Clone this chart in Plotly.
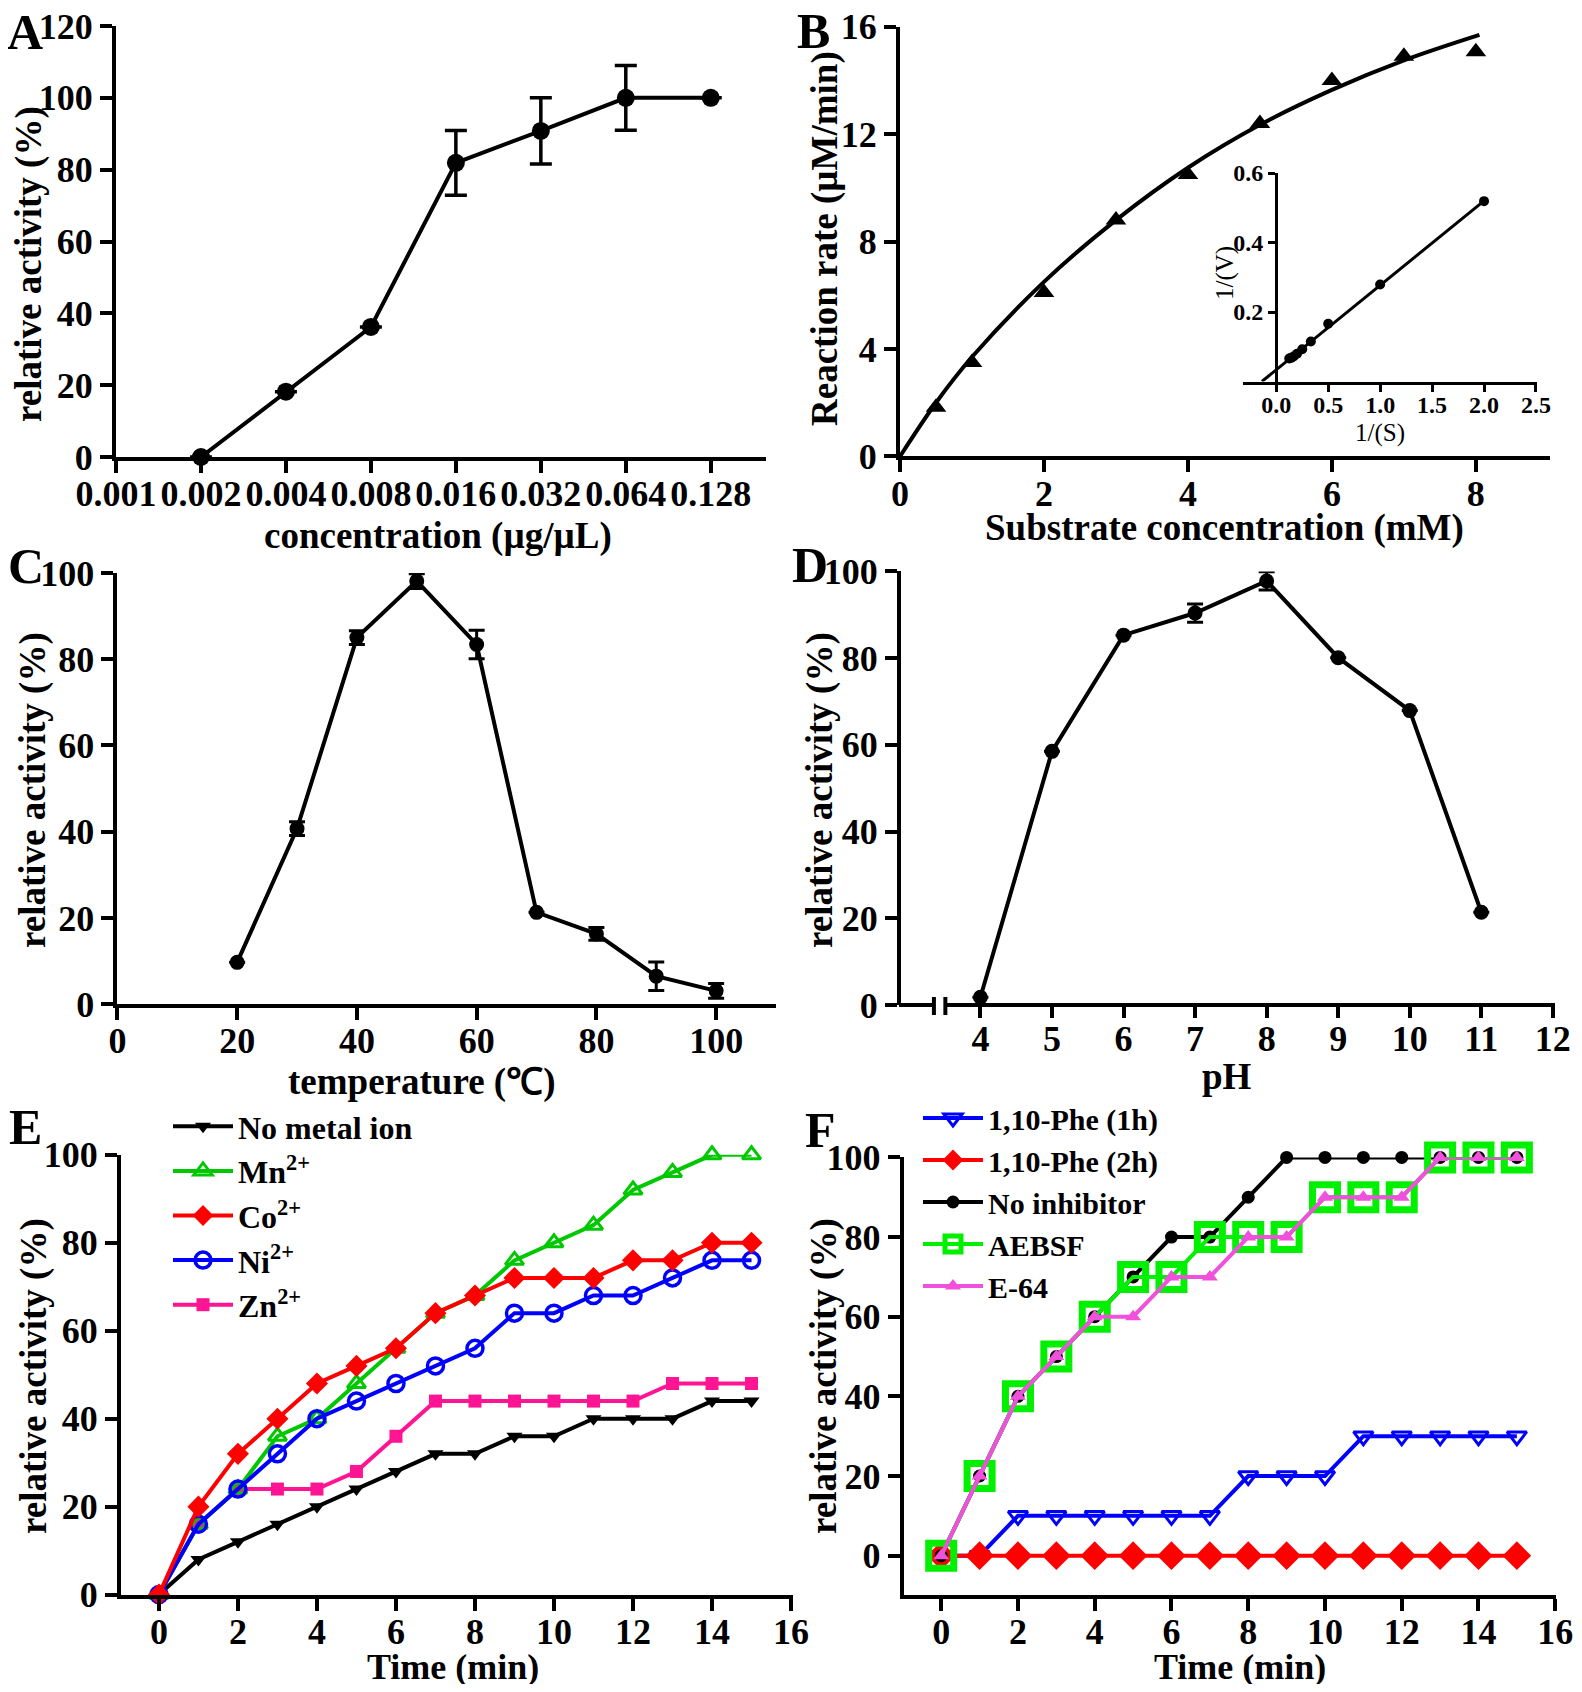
import math
import plotly.graph_objects as go

# The page body has an 8 px margin, so the figure is drawn smaller (so the page
# does not scroll) and every position below is given in page pixels.
PAGE_W, PAGE_H = 1582, 1692
OFF = 8
W, H = PAGE_W - OFF, PAGE_H - 2 * OFF
FONT = "Liberation Serif"

# ---------------- data ----------------
# Panel A
conc = [0.002, 0.004, 0.008, 0.016, 0.032, 0.064, 0.128]
actA = [0, 18.2, 36.2, 81.9, 90.8, 100, 100]
errA = [None, None, None, 9.0, 9.2, 9.0, None]
conc_ticks = [0.001, 0.002, 0.004, 0.008, 0.016, 0.032, 0.064, 0.128]
conc_labels = ["0.001", "0.002", "0.004", "0.008", "0.016", "0.032", "0.064", "0.128"]

# Panel B
substrate = [0.5, 1, 2, 3, 4, 5, 6, 7, 8]
rate = [1.83, 3.5, 6.1, 8.8, 10.5, 12.4, 14.0, 14.9, 15.07]
fit_s = [0, 0.5, 1, 2, 3, 4, 5, 6, 7, 8.05]
fit_v = [0, 2.0, 3.7, 6.5, 8.8, 10.75, 12.35, 13.65, 14.75, 15.7]
inv_s = [0.125, 0.143, 0.167, 0.2, 0.25, 0.333, 0.5, 1.0, 2.0]
inv_v = [0.066, 0.068, 0.072, 0.080, 0.093, 0.115, 0.166, 0.279, 0.519]
lb_x = [-0.138, 2.0]
lb_y = [0.0, 0.52]
inset_xticks = [0.0, 0.5, 1.0, 1.5, 2.0, 2.5]
inset_xlabels = ["0.0", "0.5", "1.0", "1.5", "2.0", "2.5"]
inset_yticks = [0.2, 0.4, 0.6]
inset_ylabels = ["0.2", "0.4", "0.6"]

# Panel C
temp = [20, 30, 40, 50, 60, 70, 80, 90, 100]
actC = [9.7, 40.7, 85.0, 98.1, 83.4, 21.3, 16.3, 6.5, 3.1]
errC = [None, 1.6, 1.6, 1.7, 3.3, None, 1.5, 3.3, 1.7]

# Panel D
ph = [4, 5, 6, 7, 8, 9, 10, 11]
actD = [1.8, 58.5, 85.3, 90.4, 97.8, 80.1, 67.9, 21.4]
errD = [None, None, None, 2.1, 2.1, None, None, None]

# Panel E
timeE = list(range(16))
no_metal = [0, 8, 12, 16, 20, 24, 28, 32, 32, 36, 36, 40, 40, 40, 44, 44]
mn = [0, 16, 24, 36, 40, 48, 56, 64, 68, 76, 80, 84, 92, 96, 100, 100]
co = [0, 20, 32, 40, 48, 52, 56, 64, 68, 72, 72, 72, 76, 76, 80, 80]
ni = [0, 16, 24, 32, 40, 44, 48, 52, 56, 64, 64, 68, 68, 72, 76, 76]
zn = [0, 16, 24, 24, 24, 28, 36, 44, 44, 44, 44, 44, 44, 48, 48, 48]

# Panel F
timeF = list(range(16))
phe1h = [0, 0, 10, 10, 10, 10, 10, 10, 20, 20, 20, 30, 30, 30, 30, 30]
phe2h = [0] * 16
no_inh = [0, 20, 40, 50, 60, 70, 80, 80, 90, 100, 100, 100, 100, 100, 100, 100]
aebsf = [0, 20, 40, 50, 60, 70, 70, 80, 80, 80, 90, 90, 90, 100, 100, 100]
e64 = [0, 20, 40, 50, 60, 60, 70, 70, 80, 80, 90, 90, 90, 100, 100, 100]

# ---------------- helpers ----------------
def px(x):
    return (x - OFF) / W

def py(y):
    return 1 - (y - OFF) / H

def tf(size=36, weight="bold"):
    return dict(family=FONT, size=size, color="black", weight=weight)

def axis(**kw):
    base = dict(showline=True, linecolor="black", linewidth=4, ticks="outside",
                ticklen=12, tickwidth=4, tickcolor="black", showgrid=False,
                zeroline=False, tickfont=tf(36), mirror=False, fixedrange=True,
                automargin=False, ticklabeloverflow="allow")
    base.update(kw)
    return base

fig = go.Figure()
LW = 4

# Panel A
fig.add_trace(go.Scatter(x=conc, y=actA, mode="lines+markers", xaxis="x", yaxis="y",
                         line=dict(color="black", width=LW),
                         marker=dict(symbol="circle", size=18, color="black"),
                         error_y=dict(type="data", array=errA, color="black", thickness=3.5, width=11),
                         cliponaxis=False, showlegend=False))

# Panel B
fig.add_trace(go.Scatter(x=fit_s, y=fit_v, mode="lines", xaxis="x2", yaxis="y2",
                         line=dict(color="black", width=LW, shape="spline"),
                         cliponaxis=False, showlegend=False))
fig.add_trace(go.Scatter(x=substrate, y=rate, mode="markers", xaxis="x2", yaxis="y2",
                         marker=dict(symbol="triangle-up", size=18, color="black"),
                         cliponaxis=False, showlegend=False))
# inset
fig.add_trace(go.Scatter(x=lb_x, y=lb_y, mode="lines", xaxis="x3", yaxis="y3",
                         line=dict(color="black", width=3), cliponaxis=False, showlegend=False))
fig.add_trace(go.Scatter(x=inv_s, y=inv_v, mode="markers", xaxis="x3", yaxis="y3",
                         marker=dict(symbol="circle", size=10, color="black"),
                         cliponaxis=False, showlegend=False))

# Panel C
fig.add_trace(go.Scatter(x=temp, y=actC, mode="lines+markers", xaxis="x4", yaxis="y4",
                         line=dict(color="black", width=LW),
                         marker=dict(symbol="circle", size=15, color="black"),
                         error_y=dict(type="data", array=errC, color="black", thickness=3, width=8),
                         cliponaxis=False, showlegend=False))

# Panel D
fig.add_trace(go.Scatter(x=ph, y=actD, mode="lines+markers", xaxis="x5", yaxis="y5",
                         line=dict(color="black", width=LW),
                         marker=dict(symbol="circle", size=15, color="black"),
                         error_y=dict(type="data", array=errD, color="black", thickness=3, width=8),
                         cliponaxis=False, showlegend=False))

# Panel E (drawing order differs from legend order)
GREEN_E = "#00C800"
PINK_E = "#FF1493"
E_series = [
    ("No metal ion", no_metal, "black", dict(symbol="triangle-down", size=14, color="black"), 1),
    ("Zn<sup>2+</sup>", zn, PINK_E, dict(symbol="square", size=13, color=PINK_E), 5),
    ("Mn<sup>2+</sup>", mn, GREEN_E, dict(symbol="triangle-up-open", size=16, color=GREEN_E,
                                          line=dict(color=GREEN_E, width=3)), 2),
    ("Ni<sup>2+</sup>", ni, "#0000FF", dict(symbol="circle-open", size=16, color="#0000FF",
                                            line=dict(color="#0000FF", width=3.5)), 4),
    ("Co<sup>2+</sup>", co, "#FF0000", dict(symbol="diamond", size=17, color="#FF0000"), 3),
]
for name, vals, col, mk, rank in E_series:
    fig.add_trace(go.Scatter(x=timeE, y=vals, mode="lines+markers", name=name,
                             xaxis="x6", yaxis="y6", line=dict(color=col, width=4),
                             marker=mk, cliponaxis=False, legend="legend", legendrank=rank))

# Panel F
GREEN_F = "#00F000"
ORCHID = "#F050DC"
F_series = [
    ("1,10-Phe (1h)", phe1h, "#0000FF", dict(symbol="triangle-down-open", size=17, color="#0000FF",
                                              line=dict(color="#0000FF", width=3)), 1),
    ("1,10-Phe (2h)", phe2h, "#FF0000", dict(symbol="diamond", size=22, color="#FF0000"), 2),
    ("No inhibitor", no_inh, "black", dict(symbol="circle", size=13, color="black"), 3),
    ("AEBSF", aebsf, GREEN_F, dict(symbol="square-open", size=25, color=GREEN_F,
                                   line=dict(color=GREEN_F, width=7)), 4),
    ("E-64", e64, ORCHID, dict(symbol="triangle-up", size=14, color=ORCHID), 5),
]
for name, vals, col, mk, rank in F_series:
    fig.add_trace(go.Scatter(x=timeF, y=vals, mode="lines+markers", name=name,
                             xaxis="x7", yaxis="y7", line=dict(color=col, width=4),
                             marker=mk, cliponaxis=False, legend="legend2", legendrank=rank))

# ---------------- axes ----------------
A_xr = [math.log10(0.001), math.log10(0.128) + 0.65 * math.log10(2)]
D_xr = [2.89, 12.03]
D_dom = [px(901), px(1555)]
SO = -10  # tick label standoff for the main x axes

layout = dict(
    width=W, height=H, margin=dict(l=0, r=0, t=0, b=0, autoexpand=False),
    paper_bgcolor="white", plot_bgcolor="rgba(0,0,0,0)",
    xaxis=axis(domain=[px(116), px(766)], type="log", range=A_xr, anchor="y",
               tickvals=conc_ticks, ticktext=conc_labels, tickfont=tf(36), ticklabelstandoff=SO),
    yaxis=axis(domain=[py(457), py(26)], range=[0, 120], tickvals=[0, 20, 40, 60, 80, 100, 120],
               anchor="x"),
    xaxis2=axis(domain=[px(900), px(1550)], range=[0, 9.03], tickvals=[0, 2, 4, 6, 8],
                anchor="y2", ticklabelstandoff=SO),
    yaxis2=axis(domain=[py(456.4), py(26.8)], range=[0, 16], tickvals=[0, 4, 8, 12, 16], anchor="x2"),
    xaxis3=axis(domain=[px(1243), px(1537)], range=[-0.32, 2.51], tickvals=inset_xticks,
                ticktext=inset_xlabels, anchor="y3", linewidth=3, tickwidth=3, ticklen=7,
                tickfont=tf(24), ticklabelstandoff=-7),
    yaxis3=axis(domain=[py(381.5), py(173)], range=[0, 0.6], tickvals=inset_yticks,
                ticktext=inset_ylabels, anchor="free", position=px(1276), linewidth=3,
                tickwidth=3, ticklen=7, tickfont=tf(24)),
    xaxis4=axis(domain=[px(117.4), px(776)], range=[0, 110], tickvals=[0, 20, 40, 60, 80, 100],
                anchor="y4", ticklabelstandoff=SO),
    yaxis4=axis(domain=[py(1004.2), py(572.9)], range=[0, 100], tickvals=[0, 20, 40, 60, 80, 100],
                anchor="x4"),
    xaxis5=axis(domain=D_dom, range=D_xr, tickvals=[4, 5, 6, 7, 8, 9, 10, 11, 12],
                anchor="y5", showline=False, ticklabelstandoff=SO),
    yaxis5=axis(domain=[py(1005), py(571.4)], range=[0, 100], tickvals=[0, 20, 40, 60, 80, 100],
                anchor="x5"),
    xaxis6=axis(domain=[px(121), px(793)], range=[-0.96, 16.05], tickvals=list(range(0, 17, 2)),
                anchor="y6", ticklabelstandoff=SO),
    yaxis6=axis(domain=[py(1594.6), py(1154.8)], range=[0, 100], tickvals=[0, 20, 40, 60, 80, 100],
                anchor="x6"),
    xaxis7=axis(domain=[px(903.6), px(1556)], range=[-0.98, 16.02], tickvals=list(range(0, 17, 2)),
                anchor="y7", ticklabelstandoff=SO),
    yaxis7=axis(domain=[py(1594.7), py(1157.4)], range=[-9.8, 100], tickvals=[0, 20, 40, 60, 80, 100],
                anchor="x7"),
    legend=dict(x=px(168), y=py(1099), xanchor="left", yanchor="top", bgcolor="rgba(0,0,0,0)",
                font=tf(32), itemwidth=60, tracegroupgap=0, traceorder="normal"),
    legend2=dict(x=px(918), y=py(1092), xanchor="left", yanchor="top", bgcolor="rgba(0,0,0,0)",
                 font=tf(30), itemwidth=60, tracegroupgap=0, traceorder="normal"),
)
fig.update_layout(**layout)

# Broken x-axis line for panel D
def d_px(xv):
    return D_dom[0] + (xv - D_xr[0]) / (D_xr[1] - D_xr[0]) * (D_dom[1] - D_dom[0])

brk = [3.35, 3.51]
yax = py(1005)
shapes = [
    dict(type="line", xref="paper", yref="paper", x0=d_px(D_xr[0]) - 2 / W, x1=d_px(brk[0]),
         y0=yax, y1=yax, line=dict(color="black", width=4)),
    dict(type="line", xref="paper", yref="paper", x0=d_px(brk[1]), x1=d_px(D_xr[1]),
         y0=yax, y1=yax, line=dict(color="black", width=4)),
]
for b in brk:
    shapes.append(dict(type="line", xref="paper", yref="paper", x0=d_px(b), x1=d_px(b),
                       y0=py(1015), y1=py(997), line=dict(color="black", width=4)))
fig.update_layout(shapes=shapes)

# ---------------- text annotations ----------------
ann = []
def add_text(text, x, y, size, angle=0, weight="bold"):
    ann.append(dict(text=text, x=px(x), y=py(y), xref="paper", yref="paper", showarrow=False,
                    xanchor="center", yanchor="middle", textangle=angle, borderpad=0,
                    font=tf(size, weight)))

# panel letters
for letter, x, y in [("A", 25, 32), ("B", 813, 31), ("C", 26, 566), ("D", 810, 565),
                     ("E", 25, 1127), ("F", 821, 1130)]:
    add_text(letter, x, y, 50)

# axis titles
add_text("concentration (µg/µL)", 438, 536, 37)
add_text("relative activity (%)", 29, 264, 37, -90)
add_text("Substrate concentration (mM)", 1224, 528, 37)
add_text("Reaction rate (µM/min)", 825, 239, 37, -90)
add_text("1/(S)", 1380, 433, 25, weight="normal")
add_text("1/(V)", 1225, 273, 25, -90, weight="normal")
add_text("temperature (℃)", 421, 1082, 37)
add_text("relative activity (%)", 33, 790, 37, -90)
add_text("pH", 1227, 1076, 37)
add_text("relative activity (%)", 820, 790, 37, -90)
add_text("Time (min)", 453, 1667, 36)
add_text("relative activity (%)", 34, 1376, 37, -90)
add_text("Time (min)", 1240, 1667, 36)
add_text("relative activity (%)", 824, 1376, 37, -90)
fig.update_layout(annotations=ann)

fig.write_html("out.html")
